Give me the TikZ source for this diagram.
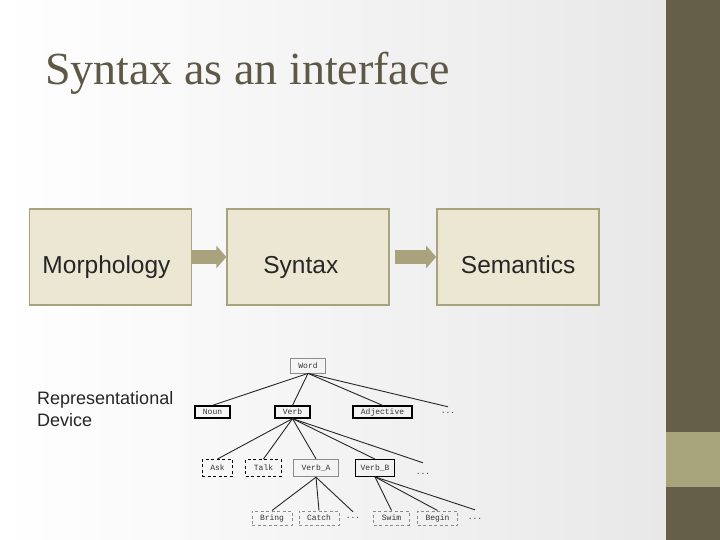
\documentclass[tikz,border=0pt]{standalone}
\usepackage{fontspec}
\setmainfont{Liberation Serif}
\setsansfont{Liberation Sans}
\setmonofont{Liberation Mono}
\usetikzlibrary{positioning, arrows.meta}

\definecolor{barDark}{RGB}{101,94,72}
\definecolor{barLight}{RGB}{168,165,125}
\definecolor{stageFill}{RGB}{235,231,211}
\definecolor{stageLine}{RGB}{168,163,124}
\definecolor{titleGrey}{RGB}{94,89,70}
\definecolor{bgGrey}{RGB}{232,232,232}
\definecolor{treeGrey}{RGB}{140,140,140}

\tikzstyle{stage} = [
    rectangle,
    minimum width=162pt,
    minimum height=96pt,
    text height=37pt,
    text depth=5pt,
    fill=stageFill,
    draw=stageLine,
    line width=1.8pt,
    text=black!85,
    font=\sffamily\fontsize{24.5}{28}\selectfont
]
\tikzstyle{flow} = [
    line width=14pt,
    draw=stageLine,
    -{Triangle[length=10pt,width=22pt]}
]
\tikzstyle{cat} = [
    rectangle,
    inner xsep=8pt,
    inner ysep=0pt,
    text=black!80,
    font=\ttfamily\fontsize{8}{9}\selectfont
]
\tikzstyle{major} = [cat, draw=black, line width=1.3pt, minimum height=12pt]
\tikzstyle{minor} = [cat, draw=black, line width=1pt, dash pattern=on 3pt off 2.5pt, minimum height=17pt]
\tikzstyle{leaf} = [cat, draw=treeGrey, line width=1pt, dash pattern=on 3pt off 2.5pt, minimum height=14pt]
\tikzstyle{dots} = [cat, inner xsep=0pt]
\tikzstyle{branch} = [line width=0.9pt, black!85]

\begin{document}
\begin{tikzpicture}[x=1pt, y=-1pt]

\useasboundingbox (0,0) rectangle (720,540);

% slide background and side bar
\shade [left color=white, right color=bgGrey] (0,0) rectangle (666,540);
\fill [barDark] (666,0) rectangle (720,540);
\fill [barLight] (666,432) rectangle (720,487);

\node (title) [anchor=base west, inner sep=0pt, text=titleGrey,
    font=\fontsize{46}{50}\selectfont] at (45,85) {Syntax as an interface};

% the three stages
\node (morph) [stage] at (110.5,257) {\hspace*{-8pt}Morphology};
\node (syn) [stage, right=34pt of morph] {\hspace*{-15pt}Syntax};
\node (sem) [stage, right=46pt of syn] {Semantics};

\draw [flow] (morph) -- (syn);
\draw [flow, shorten <=5pt] (syn) -- (sem);

\node (device) [anchor=north west, inner sep=0pt, align=left, text=black!85,
    font=\sffamily\fontsize{18}{22}\selectfont] at (37,391)
{Representational\\Device};

% word class tree
\node (word) [cat, draw=treeGrey, line width=0.8pt, minimum height=15pt] at (308,365.5) {Word};

\node (noun) [major] at (212.5,412) {Noun};
\node (verb) [major] at (292.5,412) {Verb};
\node (adj) [major] at (382.5,412) {Adjective};
\node (more1) [dots, minimum height=12pt] at (448,413) {...};

\node (ask) [minor] at (217.5,468) {Ask};
\node (talk) [minor] at (263.5,468) {Talk};
\node (verbA) [cat, draw=treeGrey, line width=1.4pt, minimum height=17pt] at (316,468) {Verb\_A};
\node (verbB) [cat, draw=black, line width=0.8pt, minimum height=17pt, inner xsep=5pt] at (375,468) {Verb\_B};
\node (more2) [dots, minimum height=22pt] at (423,474) {...};

\node (bring) [leaf] at (272,518) {Bring};
\node (catch) [leaf] at (319,518) {Catch};
\node (more3) [dots, minimum height=12pt] at (353,518) {...};
\node (swim) [leaf] at (391.5,518) {Swim};
\node (begin) [leaf] at (437.5,518) {Begin};
\node (more4) [dots, minimum height=18pt] at (475,519) {...};

\draw [branch] (word.south) -- (noun.north);
\draw [branch] (word.south) -- (verb.north);
\draw [branch] (word.south) -- (adj.north);
\draw [branch] (word.south) -- (more1.north);

\draw [branch] (verb.south) -- (ask.north);
\draw [branch] (verb.south) -- (talk.north);
\draw [branch] (verb.south) -- (verbA.north);
\draw [branch] (verb.south) -- (verbB.north);
\draw [branch] (verb.south) -- (more2.north);

\draw [branch] (verbA.south) -- (bring.north);
\draw [branch] (verbA.south) -- (catch.north);
\draw [branch] (verbA.south) -- (more3.north);

\draw [branch] (verbB.south) -- (swim.north);
\draw [branch] (verbB.south) -- (begin.north);
\draw [branch] (verbB.south) -- (more4.north);

\end{tikzpicture}
\end{document}
